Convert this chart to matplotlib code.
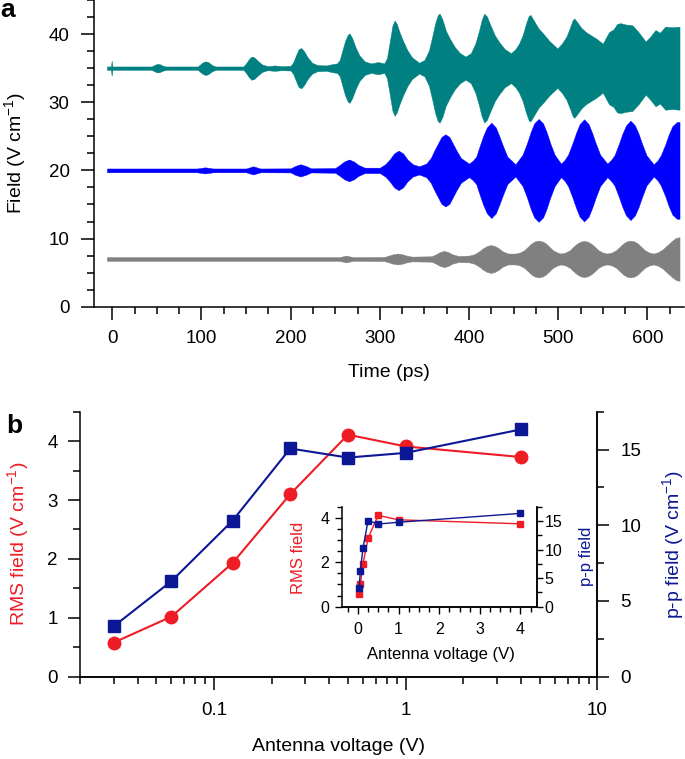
import numpy as np
import matplotlib
matplotlib.use('Agg')
import matplotlib.pyplot as plt
from matplotlib.ticker import MultipleLocator, FixedLocator, LogLocator, NullFormatter, FuncFormatter

plt.rcParams['font.family'] = ['Liberation Sans', 'DejaVu Sans']
plt.rcParams['mathtext.fontset'] = 'custom'
plt.rcParams['mathtext.rm'] = 'Liberation Sans'
plt.rcParams['mathtext.it'] = 'Liberation Sans:italic'
plt.rcParams['axes.linewidth'] = 1.1

TEAL = '#008080'
BLUE = '#0000ff'
GRAY = '#808080'
RED = '#ee1c25'
NAVY = '#0c1795'

# ---- panel a: envelopes (half amplitude) of the three traces ----
teal_offset = 35
teal_t = [-6, -1.5, -0.7, 0.2,
          44, 47, 50, 53, 56, 60,
          96, 99, 102, 105, 108, 112, 116,
          147, 150, 153, 156, 159, 163, 168, 174, 182, 190,
          200, 203, 206, 209, 212, 215, 219, 224, 230,
          240, 247, 252, 255, 258, 261, 264, 266, 269, 273, 277, 283, 290,
          298, 305, 308, 311, 314, 316.5, 319, 322, 326, 331, 336, 344,
          350, 355, 359, 362, 365, 367, 370, 374, 379, 384, 390, 396,
          402, 407, 411, 414, 417, 420, 424, 429, 434, 440, 447,
          452, 456, 460, 464, 467, 469, 473, 478, 483, 490, 499,
          504, 509, 513, 516, 518, 521, 526, 531, 537, 542, 550,
          554, 557, 562, 566, 570, 576, 583, 590, 598,
          603, 609, 614, 620, 628, 636]
teal_amp = [0.25, 0.25, 1.1, 0.25,
            0.25, 0.45, 0.62, 0.6, 0.4, 0.25,
            0.25, 0.6, 0.9, 1.0, 0.85, 0.45, 0.25,
            0.25, 0.7, 1.3, 1.7, 1.6, 1.1, 0.55, 0.3, 0.4, 0.3,
            0.35, 0.9, 1.9, 2.8, 2.95, 2.5, 1.6, 0.8, 0.45,
            0.4, 0.6, 0.7, 1.2, 2.6, 4.0, 4.9, 5.1, 4.4, 3.0, 1.9, 1.0, 0.7,
            0.9, 0.7, 1.5, 3.8, 6.2, 7.0, 6.5, 5.3, 4.0, 2.6, 1.6, 0.8,
            1.2, 2.6, 4.8, 6.6, 7.8, 8.0, 7.2, 5.5, 4.2, 3.1, 2.2, 1.7,
            2.2, 3.6, 5.4, 7.0, 8.0, 7.6, 6.3, 4.8, 3.8, 2.8, 2.2,
            2.8, 3.6, 4.8, 6.6, 7.7, 7.8, 6.9, 5.8, 5.1, 4.0, 2.9,
            3.6, 4.6, 5.9, 7.0, 7.3, 6.8, 5.9, 5.3, 4.8, 4.4, 3.6,
            4.6, 5.3, 5.7, 6.5, 6.6, 6.4, 6.3, 5.3, 3.9,
            4.6, 5.6, 5.2, 6.1, 6.0, 6.1]

blue_offset = 20
blue_t = [-6, 95, 104, 113, 150, 158, 166,
          200, 205, 211, 217, 223,
          250, 255, 260, 265.5, 271, 276, 283,
          300, 306, 311, 316, 321, 326, 331, 337, 344,
          352, 357, 361, 365, 369, 373.5, 378, 382, 386, 391, 400,
          404, 408, 412, 416, 420, 425, 430, 434, 438, 443, 452,
          456, 460, 465, 469, 473, 478, 483, 487, 491, 496, 503,
          507, 511, 516, 520, 524, 529, 534, 538, 542, 547, 555,
          559, 563, 568, 572, 576, 581, 586, 590, 594, 599, 607,
          611, 615, 620, 624, 628, 633, 636]
blue_amp = [0.28, 0.28, 0.45, 0.28, 0.28, 0.6, 0.28,
            0.3, 0.65, 0.9, 0.65, 0.3,
            0.35, 0.8, 1.3, 1.6, 1.3, 0.8, 0.4,
            0.4, 0.9, 1.6, 2.5, 2.9, 2.5, 1.6, 0.9, 0.6,
            1.0, 1.8, 2.9, 3.9, 4.9, 5.3, 4.9, 3.9, 2.9, 1.8, 1.0,
            1.4, 2.0, 3.6, 5.1, 6.3, 7.0, 6.3, 5.0, 3.6, 2.0, 0.9,
            1.6, 2.3, 4.0, 5.6, 6.9, 7.55, 6.9, 5.6, 4.0, 2.3, 1.0,
            1.5, 2.3, 4.0, 5.5, 6.8, 7.5, 6.8, 5.5, 4.0, 2.3, 1.0,
            1.5, 2.2, 3.9, 5.4, 6.6, 7.3, 6.6, 5.4, 3.9, 2.2, 0.9,
            1.4, 2.2, 3.8, 5.3, 6.5, 7.1, 7.1]

gray_offset = 7
gray_t = [-6, 255, 262, 270,
          305, 310, 315, 320, 325, 330, 336,
          358, 363, 367, 372, 377, 381, 388,
          400, 406, 411, 416, 420, 424.5, 429, 433, 438, 444, 452,
          457, 462, 466, 470, 474, 478, 482, 486, 490, 494, 499, 503,
          508, 513, 517, 521, 525, 529, 533, 537, 541, 545, 550, 555,
          560, 565, 569, 573, 577, 581, 585, 589, 593, 597, 602, 607,
          612, 617, 622, 627, 632, 636]
gray_amp = [0.28, 0.28, 0.5, 0.28,
            0.3, 0.5, 0.7, 0.8, 0.7, 0.5, 0.35,
            0.4, 0.7, 1.0, 1.2, 1.0, 0.7, 0.45,
            0.5, 0.7, 1.1, 1.6, 1.9, 2.05, 1.9, 1.6, 1.1, 0.8, 0.8,
            0.95, 1.3, 1.8, 2.3, 2.6, 2.7, 2.6, 2.3, 1.8, 1.3, 0.95, 0.8,
            0.95, 1.3, 1.8, 2.25, 2.55, 2.65, 2.55, 2.25, 1.8, 1.3, 0.95, 0.8,
            0.95, 1.3, 1.8, 2.3, 2.6, 2.7, 2.6, 2.3, 1.8, 1.3, 0.95, 0.8,
            1.0, 1.4, 2.0, 2.6, 3.1, 3.2]

# ---- panel b ----
volt = [0.03, 0.06, 0.125, 0.25, 0.5, 1.0, 4.0]
rms = [0.58, 1.02, 1.93, 3.10, 4.11, 3.91, 3.73]
pp = [3.33, 6.31, 10.3, 15.07, 14.47, 14.78, 16.33]

W, H = 685, 759
fig = plt.figure(figsize=(W / 100, H / 100), dpi=100)

# ------------------------------------------------------------------ a
ax1 = fig.add_axes([94 / W, 1 - 306.7 / H, 590 / W, 306.7 / H])
for t, a, off, c in [(teal_t, teal_amp, teal_offset, TEAL),
                     (blue_t, blue_amp, blue_offset, BLUE),
                     (gray_t, gray_amp, gray_offset, GRAY)]:
    t = np.array(t)
    a = np.array(a)
    ax1.fill_between(t, off - a, off + a, color=c, lw=0.3, edgecolor=c)

ax1.set_xlim(-20.5, 641)
ax1.set_ylim(0, 45)
ax1.xaxis.set_major_locator(MultipleLocator(100))
ax1.xaxis.set_minor_locator(MultipleLocator(25))
ax1.yaxis.set_major_locator(MultipleLocator(10))
ax1.yaxis.set_minor_locator(MultipleLocator(2.5))
ax1.spines['top'].set_visible(False)
ax1.spines['right'].set_visible(False)
ax1.tick_params(which='major', direction='out', length=9.5, width=1.1, labelsize=13.5)
ax1.tick_params(which='minor', direction='out', length=5, width=1.1)
ax1.tick_params(axis='y', which='major', pad=8)
ax1.tick_params(axis='x', which='major', pad=7)
ax1.set_xlabel('Time (ps)', fontsize=14, va='center')
ax1.xaxis.set_label_coords(0.5, -0.213)
ax1.set_ylabel('Field (V cm$^{-1}$)', fontsize=14, va='center')
ax1.yaxis.set_label_coords(-0.1337, 0.5)

fig.text(0.001, 0.977, 'a', fontsize=19, fontweight='bold', ha='left', va='baseline')

# ------------------------------------------------------------------ b
ax2 = fig.add_axes([80 / W, 1 - 676.7 / H, 517.3 / W, 265 / H])
ax2.plot(volt, rms, '-o', color=RED, lw=1.5, ms=9, mec=RED)
ax2.set_xscale('log')
ax2.set_xlim(0.02, 10)
ax2.set_ylim(0, 4.5)
ax2.xaxis.set_major_locator(FixedLocator([0.1, 1, 10]))
ax2.xaxis.set_major_formatter(FuncFormatter(lambda v, p: f'{v:g}'))
ax2.xaxis.set_minor_locator(LogLocator(base=10, subs=range(2, 10)))
ax2.xaxis.set_minor_formatter(NullFormatter())
ax2.yaxis.set_major_locator(MultipleLocator(1))
ax2.yaxis.set_minor_locator(MultipleLocator(0.5))
ax2.spines['top'].set_visible(False)
ax2.tick_params(which='major', direction='out', length=9, width=1.1, labelsize=13.5)
ax2.tick_params(which='minor', direction='out', length=5, width=1.1)
ax2.tick_params(axis='y', which='major', pad=7)
ax2.tick_params(axis='x', which='major', pad=9)
ax2.set_xlabel('Antenna voltage (V)', fontsize=14, va='center')
ax2.xaxis.set_label_coords(0.5, -0.264)
ax2.set_ylabel('RMS field (V cm$^{-1}$)', fontsize=14, color=RED, va='center')
ax2.yaxis.set_label_coords(-0.12, 0.5)

ax2r = ax2.twinx()
ax2r.plot(volt, pp, '-s', color=NAVY, lw=1.5, ms=8, mec=NAVY)
ax2r.set_ylim(0, 17.5)
ax2r.yaxis.set_major_locator(MultipleLocator(5))
ax2r.yaxis.set_minor_locator(MultipleLocator(2.5))
ax2r.spines['top'].set_visible(False)
ax2r.spines['left'].set_visible(False)
ax2r.tick_params(which='major', direction='out', length=8.5, width=1.1, labelsize=13.5, pad=8)
ax2r.tick_params(which='minor', direction='out', length=5, width=1.1)
ax2r.set_ylabel('p-p field (V cm$^{-1}$)', fontsize=14, color=NAVY, va='center')
ax2r.yaxis.set_label_coords(1.146, 0.5)

fig.text(0.009, 0.4299, 'b', fontsize=19, fontweight='bold', ha='left', va='baseline')

# ------------------------------------------------------------------ inset
axin = fig.add_axes([341.7 / W, 1 - 606.7 / H, 195 / W, 100 / H])
axin.plot(volt, rms, '-s', color=RED, lw=1.0, ms=4.5, mec=RED)
axin.set_xlim(-0.4, 4.4)
axin.set_ylim(0, 4.5)
axin.xaxis.set_major_locator(MultipleLocator(1))
axin.xaxis.set_minor_locator(MultipleLocator(0.25))
axin.yaxis.set_major_locator(MultipleLocator(2))
axin.yaxis.set_minor_locator(MultipleLocator(0.5))
axin.spines['top'].set_visible(False)
axin.tick_params(which='major', direction='out', length=5, width=1.0, labelsize=11.5)
axin.tick_params(which='minor', direction='out', length=3.5, width=1.0)
axin.tick_params(axis='y', which='major', pad=4)
axin.tick_params(axis='x', which='major', pad=6)
axin.set_xlabel('Antenna voltage (V)', fontsize=12, va='center')
axin.xaxis.set_label_coords(0.508, -0.483)
axin.set_ylabel('RMS field', fontsize=12, color=RED, va='center')
axin.yaxis.set_label_coords(-0.219, 0.49)

axin_r = axin.twinx()
axin_r.plot(volt, pp, '-s', color=NAVY, lw=1.0, ms=4.5, mec=NAVY)
axin_r.set_ylim(0, 17.5)
axin_r.yaxis.set_major_locator(MultipleLocator(5))
axin_r.yaxis.set_minor_locator(MultipleLocator(2.5))
axin_r.spines['top'].set_visible(False)
axin_r.spines['left'].set_visible(False)
axin_r.tick_params(which='major', direction='out', length=4, width=1.0, labelsize=11.5, pad=1.5)
axin_r.tick_params(which='minor', direction='out', length=3.5, width=1.0)
axin_r.set_ylabel('p-p field', fontsize=12, color=NAVY, va='center')
axin_r.yaxis.set_label_coords(1.256, 0.5)

fig.savefig('out.png', dpi=100)
